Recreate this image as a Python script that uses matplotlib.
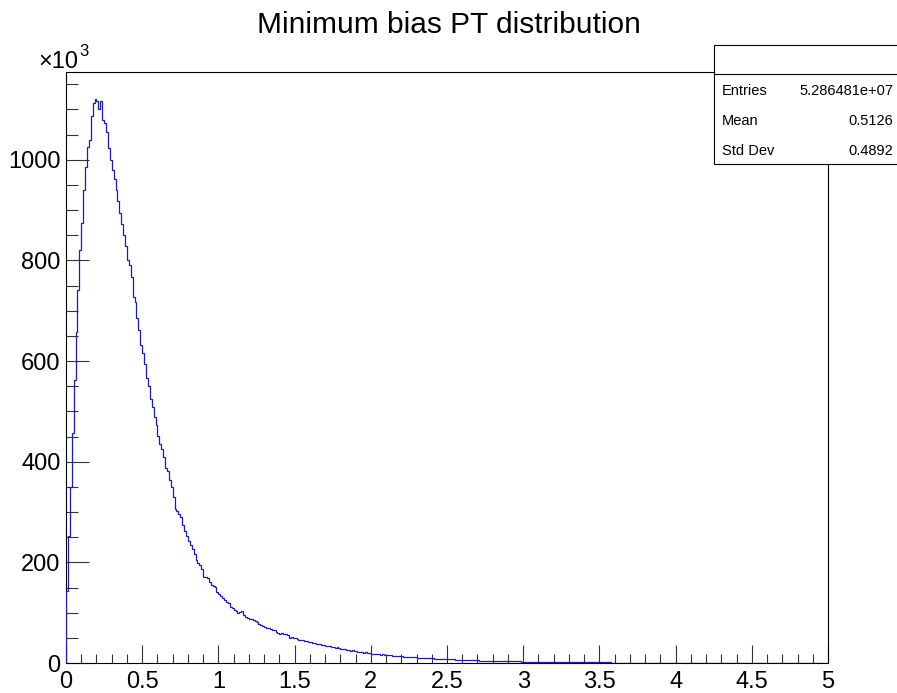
import numpy as np
import matplotlib
matplotlib.use('Agg')
import matplotlib.pyplot as plt
from matplotlib.patches import Rectangle
from matplotlib.lines import Line2D

plt.rcParams['font.family'] = ['Liberation Sans', 'DejaVu Sans']

# PT histogram: 400 bins from 0 to 5, contents in units of 10^3
x_min, x_max, n_bins = 0.0, 5.0, 400
counts_k = [
    143, 253, 349, 458, 562, 657, 741, 821, 874, 940,
    986, 1026, 1040, 1086, 1112, 1120, 1116, 1100, 1116, 1080,
    1074, 1056, 1024, 1000, 980, 962, 940, 918, 895, 872,
    850, 828, 801, 790, 768, 727, 718, 685, 661, 631,
    616, 595, 566, 550, 524, 509, 489, 472, 452, 436,
    426, 410, 388, 382, 364, 349, 329, 306, 303, 297,
    290, 275, 262, 253, 243, 235, 227, 217, 205, 198,
    195, 187, 171, 171, 168, 160, 155, 153, 152, 142,
    138, 133, 129, 125, 121, 119, 112, 110, 105, 104,
    100, 101, 103, 95, 92, 90, 88, 87, 85, 84,
    81, 78, 76, 73, 72, 70, 69, 67, 66, 65,
    62, 60, 58, 60, 58, 57, 56, 50, 51, 50,
    49, 47, 46, 45, 45, 44, 43, 42, 42, 40,
    39, 38, 37, 37, 36, 35, 34, 34, 33, 32,
    31, 30, 31, 29, 28, 27, 27, 26, 25, 24,
    25, 23, 23, 22, 21, 21, 20, 21, 19, 19,
    18, 18, 18, 17, 17, 16, 17, 16, 15, 15,
    15, 14, 14, 14, 13, 13, 13.5, 12, 12, 12,
    12, 11, 11, 11.5, 10, 10, 10, 10, 9.5, 9.5,
    9, 9, 9, 8.5, 8.5, 8, 8, 8, 7.5, 7.5,
    7.5, 7, 7, 7, 6.5, 6.5, 6.5, 6, 6, 6,
    5.5, 5.5, 5.5, 5.5, 5, 5, 5, 4.8, 4.8, 4.6,
    4.5, 4.4, 4.3, 4.2, 4.1, 4.0, 3.9, 3.8, 3.7, 3.6,
    3.6, 3.5, 3.4, 3.3, 3.2, 3.2, 3.1, 3.0, 3.0, 2.9,
    2.8, 2.8, 2.7, 2.6, 2.6, 2.5, 2.4, 2.4, 2.3, 2.3,
    2.2, 2.2, 2.1, 2.1, 2.0, 2.0, 1.9, 1.9, 1.8, 1.8,
    1.8, 1.7, 1.7, 1.6, 1.6, 1.6, 1.5, 1.5, 1.5, 1.4,
    1.4, 1.4, 1.3, 1.3, 1.3, 1.2, 1.2, 1.2, 1.2, 1.1,
    1.1, 1.1, 1.0, 1.0, 1.0, 1.0, 0.9, 0.9, 0.9, 0.9,
    0.8, 0.8, 0.8, 0.8, 0.8, 0.7, 0.7, 0.7, 0.7, 0.7,
    0.6, 0.6, 0.6, 0.6, 0.6, 0.6, 0.6, 0.6, 0.6, 0.6,
    0.5, 0.5, 0.5, 0.5, 0.5, 0.5, 0.5, 0.5, 0.5, 0.5,
    0.5, 0.5, 0.5, 0.5, 0.5, 0.4, 0.4, 0.4, 0.4, 0.4,
    0.4, 0.4, 0.4, 0.4, 0.4, 0.4, 0.4, 0.4, 0.4, 0.4,
    0.4, 0.4, 0.4, 0.4, 0.4, 0.3, 0.3, 0.3, 0.3, 0.3,
    0.3, 0.3, 0.3, 0.3, 0.3, 0.3, 0.3, 0.3, 0.3, 0.3,
    0.3, 0.3, 0.3, 0.3, 0.3, 0.3, 0.3, 0.3, 0.3, 0.3,
    0.2, 0.2, 0.2, 0.2, 0.2, 0.2, 0.2, 0.2, 0.2, 0.2,
    0.2, 0.2, 0.2, 0.2, 0.2, 0.2, 0.2, 0.2, 0.2, 0.2,
    0.15, 0.15, 0.15, 0.15, 0.15, 0.15, 0.15, 0.15, 0.15, 0.15,
]

title = 'Minimum bias PT distribution'
stat_names = ['Entries', 'Mean', 'Std Dev']
stat_values = ['5.286481e+07', '0.5126', '0.4892']

W, H = 897, 693
fig = plt.figure(figsize=(W / 100, H / 100), dpi=100)
ax = fig.add_axes([66 / W, 30 / H, (828 - 66) / W, (663 - 71.7) / H])

edges = np.linspace(x_min, x_max, n_bins + 1)
ax.stairs(counts_k, edges, color='#1c1cb0', lw=0.9, zorder=3)

ax.set_xlim(x_min, x_max)
ax.set_ylim(0, 1175)

ax.set_xticks(np.arange(0, 5.01, 0.5))
ax.set_xticks(np.arange(0, 5.01, 0.1), minor=True)
ax.set_xticklabels(['%g' % v for v in np.arange(0, 5.01, 0.5)])
ax.set_yticks(np.arange(0, 1001, 200))
ax.set_yticks(np.arange(0, 1151, 50), minor=True)

ax.tick_params(axis='both', which='both', direction='in', labelsize=17,
               color='#333333', width=0.8)
ax.tick_params(axis='x', which='major', length=13, pad=6)
ax.tick_params(axis='x', which='minor', length=6.5)
ax.tick_params(axis='y', which='major', length=16.5, pad=4)
ax.tick_params(axis='y', which='minor', length=8.5)
for s in ax.spines.values():
    s.set_linewidth(0.8)
    s.set_color('black')

# exponent marker above the y axis
fig.text(38 / W, 1 - 68 / H, '\u00d710', fontsize=17, ha='left', va='baseline')
fig.text(79 / W, 1 - 56 / H, '3', fontsize=12, ha='left', va='baseline')

fig.text(0.5, 1 - 25 / H, title, fontsize=21.5, ha='center', va='center')

# statistics box
bx0, bx1, by0, by1 = 714, 900, 45, 164
fig.patches.append(Rectangle((bx0 / W, 1 - by1 / H), (bx1 - bx0) / W, (by1 - by0) / H,
                             transform=fig.transFigure, facecolor='white',
                             edgecolor='black', lw=0.8, zorder=5))
fig.lines.append(Line2D([bx0 / W, bx1 / W], [1 - 74.3 / H, 1 - 74.3 / H],
                        transform=fig.transFigure, color='black', lw=0.8, zorder=6))
for i, (name, val) in enumerate(zip(stat_names, stat_values)):
    yy = 1 - (91 + 30 * i) / H
    fig.text(722 / W, yy, name, fontsize=10.5, ha='left', va='center', zorder=7)
    fig.text(893 / W, yy, val, fontsize=10.5, ha='right', va='center', zorder=7)

fig.savefig('out.png', dpi=100)
